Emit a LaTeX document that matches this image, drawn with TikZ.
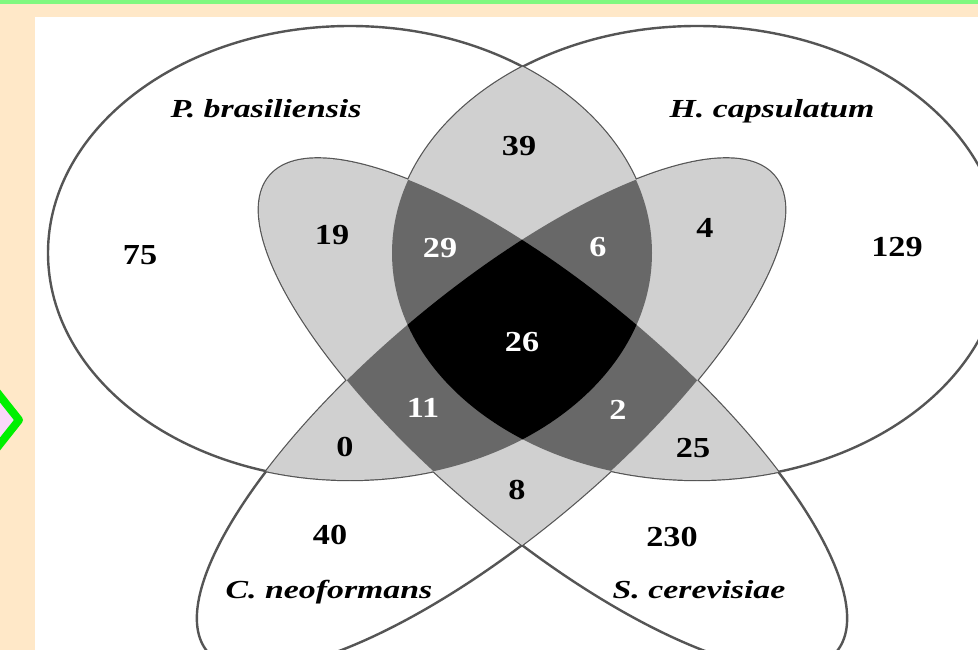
\documentclass[tikz,border=0pt]{standalone}
\usepackage{fontspec}
\setmainfont{Liberation Serif}
\definecolor{beige}{HTML}{FFE8C8}
\definecolor{topgreen}{HTML}{80F880}
\definecolor{chevgreen}{HTML}{00F000}
\definecolor{chevpink}{HTML}{F8D8F8}
\definecolor{lightg}{HTML}{D0D0D0}
\definecolor{darkg}{HTML}{686868}
\definecolor{outl}{HTML}{555555}
\newcommand\pathPb[1]{\path[#1] (350,253) ellipse [x radius=302pt, y radius=227pt];}
\newcommand\pathHc[1]{\path[#1] (697,253) ellipse [x radius=305pt, y radius=227pt];}
\newcommand\pathSc[1]{\path[#1,rotate around={-40:(553,414)}] (553,414) ellipse [x radius=370pt, y radius=122pt];}
\newcommand\pathCn[1]{\path[#1,rotate around={40:(491,414)}] (491,414) ellipse [x radius=370pt, y radius=122pt];}
\newcommand\spname[1]{\scalebox{1.3}[1]{#1}}
\newcommand\numl[1]{\scalebox{1.18}[1]{#1}}
\tikzset{
  outline/.style={draw=outl, line width=2.4pt},
  species/.style={anchor=base, inner sep=0pt, font=\fontsize{26}{30}\selectfont\bfseries\itshape},
  count/.style={inner sep=0pt, font=\fontsize{29}{32}\selectfont\bfseries},
  wcount/.style={count, text=white}
}
\begin{document}
\begin{tikzpicture}[x=1pt,y=-1pt]
\useasboundingbox (0,0) rectangle (978,650);
\fill[beige] (0,0) rectangle (978,650);
\fill[topgreen] (0,0) rectangle (978,4);
\fill[chevpink] (0,397) -- (15,420) -- (0,443) -- cycle;
\draw[chevgreen, line width=8pt, line join=round] (-4,391) -- (19,420) -- (-4,449);
\fill[white] (35,17) rectangle (978,650);
\begin{scope}
\clip (35,17) rectangle (978,650);
% outlines
\pathPb{outline}
\pathHc{outline}
\pathSc{outline}
\pathCn{outline}
% pairwise
\begin{scope}\pathPb{clip}\pathHc{clip}\fill[lightg] (0,0) rectangle (978,650);\end{scope}
\begin{scope}\pathPb{clip}\pathSc{clip}\fill[lightg] (0,0) rectangle (978,650);\end{scope}
\begin{scope}\pathPb{clip}\pathCn{clip}\fill[lightg] (0,0) rectangle (978,650);\end{scope}
\begin{scope}\pathHc{clip}\pathSc{clip}\fill[lightg] (0,0) rectangle (978,650);\end{scope}
\begin{scope}\pathHc{clip}\pathCn{clip}\fill[lightg] (0,0) rectangle (978,650);\end{scope}
\begin{scope}\pathSc{clip}\pathCn{clip}\fill[lightg] (0,0) rectangle (978,650);\end{scope}
% triples
\begin{scope}\pathPb{clip}\pathHc{clip}\pathSc{clip}\fill[darkg] (0,0) rectangle (978,650);\end{scope}
\begin{scope}\pathPb{clip}\pathHc{clip}\pathCn{clip}\fill[darkg] (0,0) rectangle (978,650);\end{scope}
\begin{scope}\pathPb{clip}\pathSc{clip}\pathCn{clip}\fill[darkg] (0,0) rectangle (978,650);\end{scope}
\begin{scope}\pathHc{clip}\pathSc{clip}\pathCn{clip}\fill[darkg] (0,0) rectangle (978,650);\end{scope}
% all four
\begin{scope}\pathPb{clip}\pathHc{clip}\pathSc{clip}\pathCn{clip}\fill[black] (0,0) rectangle (978,650);\end{scope}
\end{scope}
% species labels
\node[species] (pb) at (266,118) {\spname{P. brasiliensis}};
\node[species] (hc) at (772,118) {\spname{H. capsulatum}};
\node[species] (cn) at (329,598) {\spname{C. neoformans}};
\node[species] (sc) at (699,598) {\spname{S. cerevisiae}};
% counts
\node[count] (n75) at (140,255) {\numl{75}};
\node[count] (n19) at (332,235) {\numl{19}};
\node[wcount] (n29) at (440,248) {\numl{29}};
\node[count] (n39) at (519,146) {\numl{39}};
\node[wcount] (n6) at (598,247) {\numl{6}};
\node[count] (n4) at (705,228) {\numl{4}};
\node[count] (n129) at (897,247) {\numl{129}};
\node[wcount] (n26) at (522,342) {\numl{26}};
\node[wcount] (n11) at (423,408) {\numl{11}};
\node[wcount] (n2) at (618,410) {\numl{2}};
\node[count] (n0) at (345,447) {\numl{0}};
\node[count] (n8) at (517,490) {\numl{8}};
\node[count] (n25) at (693,448) {\numl{25}};
\node[count] (n40) at (330,535) {\numl{40}};
\node[count] (n230) at (672,537) {\numl{230}};
\end{tikzpicture}
\end{document}
